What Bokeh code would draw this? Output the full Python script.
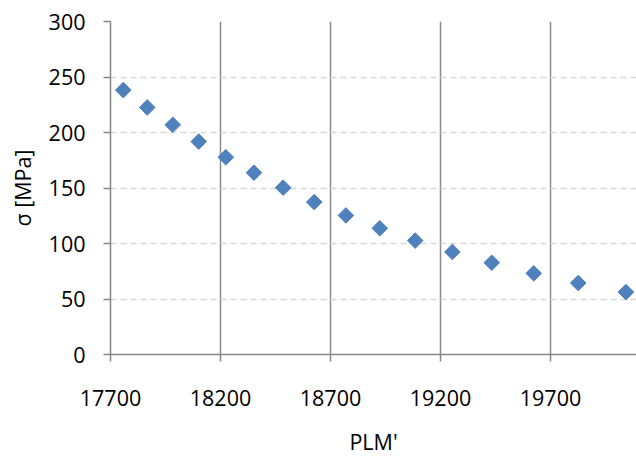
from bokeh.plotting import figure
from bokeh.models import Range1d, FixedTicker
from bokeh.embed import file_html
from bokeh.resources import INLINE
import math

# Data
plm = [17758, 17867, 17983, 18101, 18224, 18352, 18485, 18626,
       18770, 18924, 19085, 19254, 19433, 19624, 19826, 20043]
sigma = [238.2, 222.6, 206.9, 191.8, 177.7, 163.8, 150.3, 137.3,
         125.3, 113.7, 102.6, 92.4, 82.7, 73.1, 64.4, 56.2]
x_ticks = [17700, 18200, 18700, 19200, 19700]
y_ticks = [0, 50, 100, 150, 200, 250, 300]

FONT = "Open Sans"
AX = "#868686"

p = figure(width=636, height=459, output_backend="svg", toolbar_location=None,
           x_range=Range1d(17700, 20091), y_range=Range1d(0, 300),
           min_border_left=110, min_border_right=0, min_border_top=21,
           min_border_bottom=105)
p.outline_line_color = None
p.background_fill_color = "white"
p.border_fill_color = "white"

p.scatter(plm, sigma, marker="square", size=11, angle=math.pi / 4,
          fill_color="#4F81BD", line_color="#4A7EBB", line_width=1)

for ax in (p.xaxis[0], p.yaxis[0]):
    ax.axis_line_color = AX
    ax.axis_line_width = 1.5
    ax.major_tick_line_color = AX
    ax.major_tick_line_width = 1.5
    ax.major_tick_in = 0
    ax.major_tick_out = 7
    ax.minor_tick_line_color = None
    ax.major_label_text_font = FONT
    ax.major_label_text_font_size = "21.5px"
    ax.major_label_text_color = "black"
    ax.axis_label_text_font = FONT
    ax.axis_label_text_font_size = "21.5px"
    ax.axis_label_text_font_style = "normal"
    ax.axis_label_text_color = "black"

p.xaxis.ticker = FixedTicker(ticks=x_ticks)
p.yaxis.ticker = FixedTicker(ticks=y_ticks)
p.xaxis.axis_label = "PLM'"
p.yaxis.axis_label = "σ [MPa]"
p.xaxis.major_label_standoff = 28
p.yaxis.major_label_standoff = 18
p.xaxis.axis_label_standoff = 18
p.yaxis.axis_label_standoff = 9

p.xgrid.grid_line_color = "#8A8A8A"
p.xgrid.grid_line_width = 1.5
p.ygrid.grid_line_color = "#D9D9D9"
p.ygrid.grid_line_width = 1.5
p.ygrid.grid_line_dash = "6 4"

open("out.html", "w").write(file_html(p, INLINE))
